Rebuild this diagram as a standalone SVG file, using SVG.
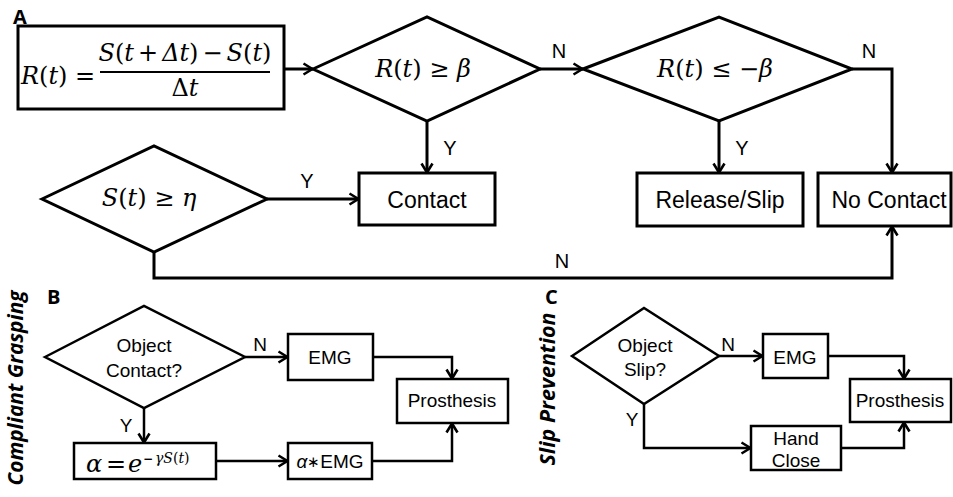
<svg xmlns="http://www.w3.org/2000/svg" width="953" height="497" viewBox="0 0 953 497">
  <defs>
    <style>
      .box { fill: #fff; stroke: #000; stroke-width: 3; }
      .box2 { fill: #fff; stroke: #000; stroke-width: 2.5; }
      .wire { fill: none; stroke: #000; stroke-width: 3; }
      .wire2 { fill: none; stroke: #000; stroke-width: 2.5; }
      .lbl { font-family: "Liberation Sans", Arial, sans-serif; font-size: 23px; fill: #000; }
      .lbl2 { font-family: "Liberation Sans", Arial, sans-serif; font-size: 19px; fill: #000; }
      .yn { font-family: "Liberation Sans", Arial, sans-serif; font-size: 20px; fill: #000; }
      .math { font-family: "DejaVu Serif", "Liberation Serif", serif; font-size: 24px; fill: #000; }
      .it { font-style: italic; }
      .panel { font-family: "Open Sans", "DejaVu Sans", sans-serif; font-weight: bold; font-size: 20px; fill: #000; }
      .side { font-family: "Open Sans", "DejaVu Sans", sans-serif; font-weight: bold; font-style: italic; font-size: 21px; fill: #000; }
    </style>
    <marker id="arr" viewBox="0 0 12 14" refX="11" refY="7" markerWidth="12" markerHeight="14" markerUnits="userSpaceOnUse" orient="auto">
      <path d="M1.5,1.5 L10.5,7 L1.5,12.5" fill="none" stroke="#000" stroke-width="2.6"/>
    </marker>
  </defs>

  <!-- Panel A: contact state detection -->
  <text class="panel" x="13" y="24">A</text>

  <g id="rate">
    <rect class="box" x="18" y="26" width="266" height="83"/>
    <text class="math" x="21" y="84"><tspan class="it">R</tspan>(<tspan class="it">t</tspan>) =</text>
    <text class="math" x="185" y="61" font-size="22" text-anchor="middle"><tspan class="it">S</tspan>(<tspan class="it">t</tspan><tspan dx="4">+</tspan><tspan class="it" dx="4">Δt</tspan>)<tspan dx="4">−</tspan><tspan class="it" dx="4">S</tspan>(<tspan class="it">t</tspan>)</text>
    <line x1="100" y1="72" x2="270" y2="72" stroke="#000" stroke-width="2"/>
    <text class="math" x="185" y="96" text-anchor="middle">Δ<tspan class="it">t</tspan></text>
  </g>

  <g id="rise">
    <polygon class="box" points="313,69 427,17 540,69 427,121"/>
    <text class="math" x="423" y="77" font-size="22" text-anchor="middle"><tspan class="it">R</tspan>(<tspan class="it">t</tspan>) ≥ <tspan class="it">β</tspan></text>
  </g>

  <g id="fall">
    <polygon class="box" points="583,69 719,17 852,69 719,121"/>
    <text class="math" x="715" y="77" font-size="22" text-anchor="middle"><tspan class="it">R</tspan>(<tspan class="it">t</tspan>) ≤ −<tspan class="it">β</tspan></text>
  </g>

  <g id="level">
    <polygon class="box" points="42,199 154,146 267,199 154,252"/>
    <text class="math" x="149" y="206" font-size="22" text-anchor="middle"><tspan class="it">S</tspan>(<tspan class="it">t</tspan>) ≥ <tspan class="it">η</tspan></text>
  </g>

  <g id="contact">
    <rect class="box" x="359" y="173" width="136" height="52"/>
    <text class="lbl" x="427" y="208" text-anchor="middle">Contact</text>
  </g>

  <g id="release">
    <rect class="box" x="637" y="173" width="166" height="53"/>
    <text class="lbl" x="720" y="208" text-anchor="middle">Release/Slip</text>
  </g>

  <g id="nocontact">
    <rect class="box" x="818" y="173" width="133" height="53"/>
    <text class="lbl" x="889" y="208" text-anchor="middle">No Contact</text>
  </g>

  <!-- Panel B: compliant grasping -->
  <text class="panel" x="47" y="304">B</text>
  <text class="side" transform="translate(23,388) rotate(-90)" text-anchor="middle" textLength="195" lengthAdjust="spacingAndGlyphs">Compliant Grasping</text>

  <g id="b-decide">
    <polygon class="box2" points="45,357 144,306 245,357 144,408"/>
    <text class="lbl2" x="144" y="352" text-anchor="middle">Object</text>
    <text class="lbl2" x="144" y="377" text-anchor="middle">Contact?</text>
  </g>

  <g id="b-emg">
    <rect class="box2" x="288" y="334" width="85" height="46"/>
    <text class="lbl2" x="330" y="364" text-anchor="middle">EMG</text>
  </g>

  <g id="b-prosthesis">
    <rect class="box2" x="397" y="379" width="111" height="44"/>
    <text class="lbl2" x="452" y="407" text-anchor="middle">Prosthesis</text>
  </g>

  <g id="b-alpha">
    <rect class="box2" x="74" y="443" width="142" height="36"/>
    <text class="math" y="472" font-size="19"><tspan class="it" x="86">α</tspan><tspan x="106">=</tspan><tspan class="it" x="128">e</tspan><tspan x="143" y="463" font-size="12" font-weight="bold">−</tspan><tspan class="it" x="155" y="463" font-size="14">γS</tspan><tspan y="463" font-size="14">(<tspan class="it">t</tspan>)</tspan></text>
  </g>

  <g id="b-scaled">
    <rect class="box2" x="288" y="443" width="84" height="36"/>
    <text class="lbl2" x="330" y="468" text-anchor="middle"><tspan font-style="italic">α</tspan><tspan font-size="15" dy="-1">∗</tspan><tspan dy="1">EMG</tspan></text>
  </g>

  <!-- Panel C: slip prevention -->
  <text class="panel" x="545" y="304">C</text>
  <text class="side" transform="translate(555,389) rotate(-90)" text-anchor="middle" textLength="153" lengthAdjust="spacingAndGlyphs">Slip Prevention</text>

  <g id="c-decide">
    <polygon class="box2" points="572,356 644,308 719,356 644,404"/>
    <text class="lbl2" x="645" y="352" text-anchor="middle">Object</text>
    <text class="lbl2" x="645" y="376" text-anchor="middle">Slip?</text>
  </g>

  <g id="c-emg">
    <rect class="box2" x="763" y="334" width="65" height="44"/>
    <text class="lbl2" x="795" y="364" text-anchor="middle">EMG</text>
  </g>

  <g id="c-prosthesis">
    <rect class="box2" x="850" y="379" width="101" height="43"/>
    <text class="lbl2" x="900" y="407" text-anchor="middle">Prosthesis</text>
  </g>

  <g id="c-close">
    <rect class="box2" x="751" y="426" width="90" height="44"/>
    <text class="lbl2" x="796" y="445" text-anchor="middle">Hand</text>
    <text class="lbl2" x="796" y="467" text-anchor="middle">Close</text>
  </g>

  <!-- Connectors -->
  <g id="connectors">
    <path class="wire" d="M284,69 H313" marker-end="url(#arr)"/>
    <path class="wire" d="M540,69 H583" marker-end="url(#arr)"/>
    <path class="wire" d="M427,121 V173" marker-end="url(#arr)"/>
    <path class="wire" d="M719,121 V173" marker-end="url(#arr)"/>
    <path class="wire" d="M852,69 H892 V173" marker-end="url(#arr)"/>
    <path class="wire" d="M267,199 H359" marker-end="url(#arr)"/>
    <path class="wire" d="M154,252 V278 H892 V226" marker-end="url(#arr)"/>

    <path class="wire2" d="M245,357 H288" marker-end="url(#arr)"/>
    <path class="wire2" d="M144,408 V443" marker-end="url(#arr)"/>
    <path class="wire2" d="M216,461 H288" marker-end="url(#arr)"/>
    <path class="wire2" d="M373,357 H452 V379" marker-end="url(#arr)"/>
    <path class="wire2" d="M372,461 H452 V423" marker-end="url(#arr)"/>

    <path class="wire2" d="M719,356 H763" marker-end="url(#arr)"/>
    <path class="wire2" d="M644,404 V448 H751" marker-end="url(#arr)"/>
    <path class="wire2" d="M828,356 H904 V379" marker-end="url(#arr)"/>
    <path class="wire2" d="M841,448 H904 V422" marker-end="url(#arr)"/>

    <text class="yn" x="559" y="58" text-anchor="middle">N</text>
    <text class="yn" x="450" y="155" text-anchor="middle">Y</text>
    <text class="yn" x="742" y="155" text-anchor="middle">Y</text>
    <text class="yn" x="869" y="58" text-anchor="middle">N</text>
    <text class="yn" x="307" y="188" text-anchor="middle">Y</text>
    <text class="yn" x="562" y="268" text-anchor="middle">N</text>

    <text class="lbl2" x="260" y="351" text-anchor="middle">N</text>
    <text class="lbl2" x="126" y="432" text-anchor="middle">Y</text>
    <text class="lbl2" x="728" y="351" text-anchor="middle">N</text>
    <text class="lbl2" x="632" y="426" text-anchor="middle">Y</text>
  </g>
</svg>
